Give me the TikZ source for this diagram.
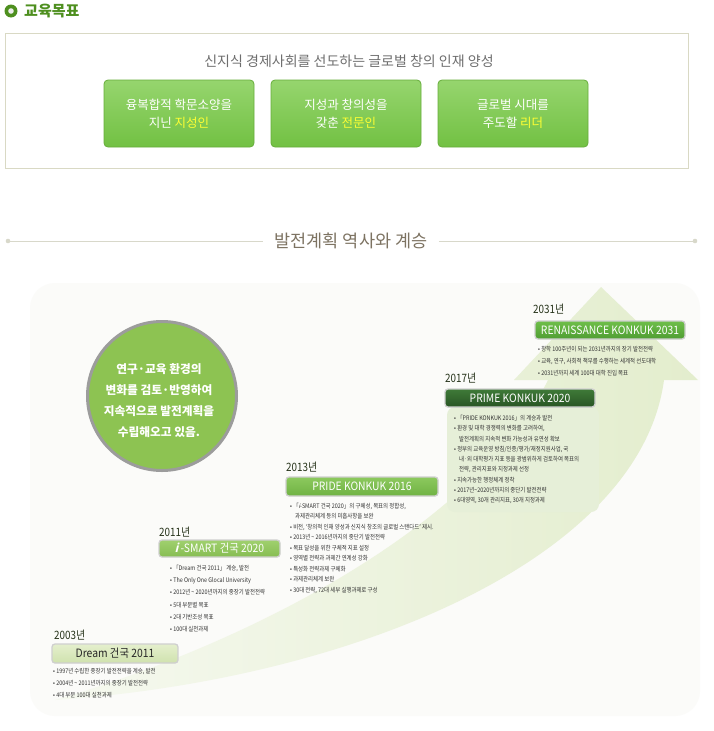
\documentclass[tikz,border=0pt]{standalone}
\usepackage{fontspec}
\setmainfont{Noto Sans CJK KR}
\newfontfamily\krc[FakeStretch=0.86]{Noto Sans CJK KR}
\newfontfamily\krt[FakeStretch=0.9]{Noto Sans CJK KR}
\newfontfamily\krsl[FakeStretch=0.9,FakeSlant=0.25]{Noto Sans CJK KR}
\definecolor{hdrgreen}{HTML}{4E8F1F}
\definecolor{boxline}{HTML}{D9D9C4}
\definecolor{headgray}{HTML}{6E6E6E}
\definecolor{btnTop}{HTML}{96D56E}
\definecolor{btnBot}{HTML}{72C143}
\definecolor{btnLine}{HTML}{66AD3B}
\definecolor{hl}{HTML}{FFFF33}
\definecolor{titlec}{HTML}{7D7362}
\definecolor{linec}{HTML}{D8D8CA}
\definecolor{panelbg}{HTML}{FBFBF9}
\definecolor{arrL}{HTML}{F6F9F0}
\definecolor{arrR}{HTML}{E3EDCD}
\definecolor{circfill}{HTML}{8DC352}
\definecolor{circline}{HTML}{9C9C9C}
\definecolor{yearc}{HTML}{26331A}
\definecolor{frame}{HTML}{CFCFCF}
\definecolor{bultext}{HTML}{333333}
\definecolor{panelA}{HTML}{E6EFD8}
\definecolor{renT}{HTML}{6FBF4A}
\definecolor{renB}{HTML}{4F9D32}
\definecolor{priT}{HTML}{3F7A38}
\definecolor{priB}{HTML}{285524}
\definecolor{pdT}{HTML}{8CC95E}
\definecolor{pdB}{HTML}{70B243}
\definecolor{isT}{HTML}{A0D06E}
\definecolor{isB}{HTML}{86BD52}
\definecolor{drT}{HTML}{E4EFCD}
\definecolor{drB}{HTML}{D0E2AE}
\begin{document}
\begin{tikzpicture}[x=1pt,y=-1pt,
  btn/.style={rounded corners=4pt, top color=btnTop, bottom color=btnBot, draw=btnLine, line width=0.8pt, minimum width=150pt, minimum height=67pt, text=white, align=center, font=\fontsize{12.5}{18}\selectfont},
  yearlbl/.style={anchor=west, inner sep=0pt, text=yearc, font=\krc\fontsize{11.5}{12}\selectfont},
  tbox/.style={rounded corners=3pt, draw=frame, line width=1.3pt, inner sep=0pt, text=white, font=\krt\fontsize{11.5}{12}\selectfont},
  bul/.style={anchor=north west, inner sep=0pt, align=left, text=bultext}
]
\useasboundingbox (0,0) rectangle (714,731);
\fill[white] (0,0) rectangle (714,731);

% header
\fill[hdrgreen] (11,11) circle (6.5);
\fill[white!85!gray] (11,11) circle (2.8);
\node[anchor=west, inner sep=0pt, text=hdrgreen, font=\bfseries\fontsize{15}{15}\selectfont] (hdr) at (24,11) {교육목표};

% goal box
\draw[boxline, line width=0.9pt] (5,33) rectangle (688,168);
\node[text=headgray, font=\fontsize{14}{14}\selectfont] (goalhead) at (349,61) {신지식 경제사회를 선도하는 글로벌 창의 인재 양성};
\node[btn] (g1) at (179,113.5) {융복합적 학문소양을\\지닌 \textcolor{hl}{지성인}};
\node[btn] (g2) at (346,113.5) {지성과 창의성을\\갖춘 \textcolor{hl}{전문인}};
\node[btn] (g3) at (513,113.5) {글로벌 시대를\\주도할 \textcolor{hl}{리더}};

% section title
\node[text=titlec, font=\fontsize{17.5}{17.5}\selectfont] (histtitle) at (351,241) {발전계획 역사와 계승};
\coordinate (ll) at (8,241);
\coordinate (rr) at (695,241);
\draw[linec, line width=1pt] (ll) -- ([xshift=-8pt]histtitle.west);
\draw[linec, line width=1pt] ([xshift=8pt]histtitle.east) -- (rr);
\fill[linec] (ll) circle (2.3);
\fill[linec] (rr) circle (2.3);

% background panel
\fill[panelbg, rounded corners=25pt] (30,283) rectangle (700,716);

% big arrow swoosh
\shade[left color=arrL, right color=arrR] (55,700) .. controls (260,640) and (480,520) .. (548,380) -- (514,380) -- (601,287) -- (698,380) -- (664,380) .. controls (640,560) and (350,680) .. (55,700) -- cycle;

% circle
\node[circle, fill=circfill, draw=circline, line width=3pt, minimum size=149pt] (circ) at (162,396) {};
\node[text=white, align=center, font=\bfseries\fontsize{11.7}{21}\selectfont] (circtext) at (159,401) {연구·교육 환경의\\변화를 검토·반영하여\\지속적으로 발전계획을\\수립해오고 있음.};

% 2017 panel
\fill[panelA, rounded corners=8pt] (447,407) rectangle (599,512);

% 2031
\node[yearlbl] (y31) at (533,309) {2031년};
\node[tbox, top color=renT, bottom color=renB, minimum width=150pt, minimum height=18pt] (t31) at (610,330) {RENAISSANCE KONKUK 2031};
\node[bul, font=\krc\fontsize{6.3}{12}\selectfont] (b31) at (538,346.5) {• 창학 100주년이 되는 2031년까지의 장기 발전전략\\• 교육, 연구, 사회적 책무를 수행하는 세계적 선도대학\\• 2031년까지 세계 100대 대학 진입 목표};

% 2017
\node[yearlbl] (y17) at (445,378) {2017년};
\node[tbox, top color=priT, bottom color=priB, minimum width=150pt, minimum height=18pt] (t17) at (520,398) {PRIME KONKUK 2020};
\node[bul, font=\krc\fontsize{6.3}{10.25}\selectfont] (b17) at (454,415) {• 「PRIDE KONKUK 2016」의 계승과 발전\\• 환경 및 대학 경쟁력의 변화를 고려하여,\\\hspace*{5pt}발전계획의 지속적 변화 가능성과 유연성 확보\\• 정부의 교육운영 방침/인증/평가/재정지원사업, 국\\\hspace*{5pt}내·외 대학평가 지표 등을 광범위하게 검토하여 목표의\\\hspace*{5pt}전략, 관리지표와 지정과제 선정\\• 지속가능한 행정체계 정착\\• 2017년\textasciitilde 2020년까지의 중단기 발전전략\\• 6대영역, 30개 관리지표, 30개 지정과제};

% 2013
\node[yearlbl] (y13) at (286,467) {2013년};
\node[tbox, top color=pdT, bottom color=pdB, minimum width=152pt, minimum height=19pt] (t13) at (362,486.5) {PRIDE KONKUK 2016};
\node[bul, font=\krc\fontsize{6.3}{10.5}\selectfont] (b13) at (290,502.5) {• 「{\krsl i}-SMART 건국 2020」의 구체성, 목표의 정합성,\\\hspace*{5pt}과제관리체계 등의 미흡사항을 보완\\• 비전, ‘창의적 인재 양성과 신지식 창조의 글로벌 스탠다드’ 제시.\\• 2013년 \textasciitilde\ 2016년까지의 중단기 발전전략\\• 목표 달성을 위한 구체적 지표 설정\\• 영역별 전략과 과제간 연계성 강화\\• 특성화 전략과제 구체화\\• 과제관리체계 보완\\• 30대 전략, 72대 세부 실행과제로 구성};

% 2011
\node[yearlbl] (y11) at (159,532) {2011년};
\node[tbox, top color=isT, bottom color=isB, minimum width=121pt, minimum height=17pt] (t11) at (219.5,548.5) {{\krsl\bfseries i} -SMART 건국 2020};
\node[bul, font=\krc\fontsize{6.3}{12.2}\selectfont] (b11) at (170,565) {• 「Dream 건국 2011」 계승, 발전\\• The Only One Glocal University\\• 2012년 \textasciitilde\ 2020년까지의 중장기 발전전략\\• 5대 부문별 목표\\• 2대 기반조성 목표\\• 100대 실천과제};

% 2003
\node[yearlbl] (y03) at (54,635) {2003년};
\node[tbox, top color=drT, bottom color=drB, text=black!85, minimum width=126pt, minimum height=19pt] (t03) at (115,653.5) {Dream 건국 2011};
\node[bul, font=\krc\fontsize{6.3}{12}\selectfont] (b03) at (53,668) {• 1997년 수립한 중장기 발전전략을 계승, 발전\\• 2004년 \textasciitilde\ 2011년까지의 중장기 발전전략\\• 4대 부문 100대 실천과제};
\end{tikzpicture}
\end{document}
